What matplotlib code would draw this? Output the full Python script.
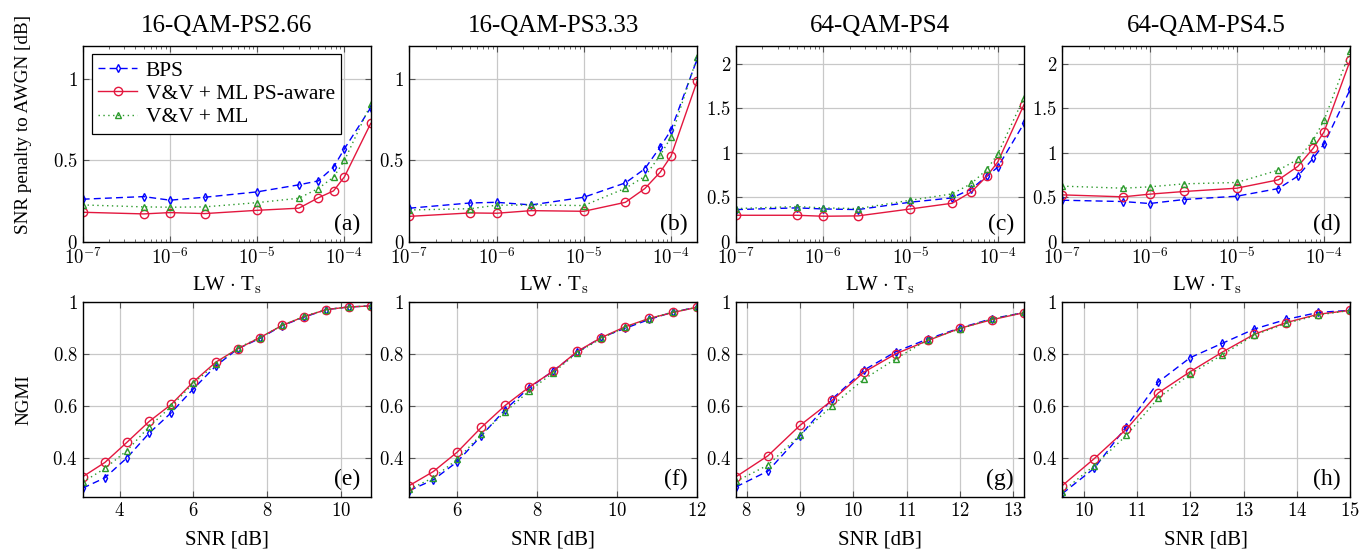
import matplotlib
matplotlib.use("Agg")
import matplotlib.pyplot as plt
import numpy as np
from matplotlib.ticker import FuncFormatter, FixedLocator, LogLocator, NullFormatter

plt.rcParams["font.family"] = ["Liberation Serif", "DejaVu Serif"]
plt.rcParams["mathtext.fontset"] = "cm"

# ---- data ----
titles = ["16-QAM-PS2.66", "16-QAM-PS3.33", "64-QAM-PS4", "64-QAM-PS4.5"]
top_tags = ["(a)", "(b)", "(c)", "(d)"]
bot_tags = ["(e)", "(f)", "(g)", "(h)"]

lw_ts = [1e-7, 5e-7, 1e-6, 2.5e-6, 1e-5, 3e-5, 5e-5, 7.5e-5, 1e-4, 2e-4]

pen_bps = [
    [0.262, 0.278, 0.256, 0.274, 0.307, 0.350, 0.374, 0.458, 0.571, 0.822],
    [0.207, 0.239, 0.243, 0.227, 0.274, 0.362, 0.448, 0.581, 0.685, 1.123],
    [0.364, 0.383, 0.371, 0.364, 0.447, 0.495, 0.597, 0.739, 0.840, 1.332],
    [0.469, 0.454, 0.432, 0.477, 0.514, 0.600, 0.739, 0.938, 1.100, 1.715],
]
pen_psaware = [
    [0.182, 0.172, 0.180, 0.174, 0.194, 0.207, 0.270, 0.313, 0.399, 0.726],
    [0.157, 0.178, 0.176, 0.192, 0.188, 0.243, 0.327, 0.427, 0.526, 0.988],
    [0.300, 0.300, 0.289, 0.293, 0.371, 0.435, 0.563, 0.739, 0.897, 1.542],
    [0.529, 0.507, 0.537, 0.567, 0.604, 0.698, 0.848, 1.051, 1.235, 2.041],
]
pen_ml = [
    [0.227, 0.215, 0.213, 0.215, 0.241, 0.268, 0.327, 0.397, 0.499, 0.843],
    [0.196, 0.204, 0.225, 0.227, 0.223, 0.329, 0.401, 0.530, 0.642, 1.135],
    [0.375, 0.398, 0.383, 0.375, 0.469, 0.540, 0.657, 0.814, 0.987, 1.621],
    [0.627, 0.604, 0.619, 0.653, 0.668, 0.807, 0.927, 1.141, 1.366, 2.146],
]
pen_ymax = [1.2, 1.2, 2.2, 2.2]
pen_yticks = [[0, 0.5, 1], [0, 0.5, 1], [0, 0.5, 1, 1.5, 2], [0, 0.5, 1, 1.5, 2]]

snr = [
    [3.0, 3.6, 4.2, 4.8, 5.4, 6.0, 6.6, 7.2, 7.8, 8.4, 9.0, 9.6, 10.2, 10.8],
    [4.8, 5.4, 6.0, 6.6, 7.2, 7.8, 8.4, 9.0, 9.6, 10.2, 10.8, 11.4, 12.0],
    [7.8, 8.4, 9.0, 9.6, 10.2, 10.8, 11.4, 12.0, 12.6, 13.2],
    [9.6, 10.2, 10.8, 11.4, 12.0, 12.6, 13.2, 13.8, 14.4, 15.0],
]
ngmi_bps = [
    [0.284, 0.324, 0.401, 0.496, 0.575, 0.667, 0.754, 0.821, 0.861, 0.910, 0.943, 0.972, 0.982, 0.986],
    [0.275, 0.316, 0.386, 0.486, 0.587, 0.671, 0.736, 0.808, 0.865, 0.900, 0.934, 0.963, 0.981],
    [0.289, 0.350, 0.486, 0.627, 0.739, 0.810, 0.859, 0.901, 0.937, 0.960],
    [0.263, 0.361, 0.521, 0.693, 0.787, 0.842, 0.897, 0.934, 0.961, 0.969],
]
ngmi_psaware = [
    [0.328, 0.383, 0.461, 0.541, 0.607, 0.694, 0.769, 0.821, 0.864, 0.911, 0.945, 0.972, 0.982, 0.986],
    [0.294, 0.348, 0.423, 0.518, 0.603, 0.674, 0.735, 0.811, 0.864, 0.906, 0.938, 0.961, 0.981],
    [0.328, 0.409, 0.526, 0.622, 0.731, 0.802, 0.853, 0.900, 0.933, 0.960],
    [0.294, 0.398, 0.511, 0.651, 0.733, 0.808, 0.877, 0.922, 0.954, 0.969],
]
ngmi_ml = [
    [0.307, 0.360, 0.429, 0.521, 0.599, 0.689, 0.761, 0.824, 0.864, 0.911, 0.946, 0.972, 0.982, 0.986],
    [0.280, 0.324, 0.395, 0.491, 0.578, 0.659, 0.729, 0.806, 0.861, 0.904, 0.937, 0.963, 0.981],
    [0.310, 0.373, 0.489, 0.601, 0.704, 0.783, 0.856, 0.898, 0.936, 0.961],
    [0.271, 0.371, 0.487, 0.631, 0.724, 0.798, 0.874, 0.919, 0.951, 0.969],
]
snr_xlim = [(3, 10.8), (4.8, 12), (7.8, 13.2), (9.6, 15)]
snr_xticks = [[4, 6, 8, 10], [6, 8, 10, 12], [8, 9, 10, 11, 12, 13], [10, 11, 12, 13, 14, 15]]
ngmi_yticks = [0.4, 0.6, 0.8, 1]

# ---- styles ----
BLUE, RED, GREEN = "#0000ff", "#e3173e", "#2b9a2b"
styles = [
    dict(color=BLUE, ls=(0, (5, 3)), marker="d", ms=4.2, label="BPS"),
    dict(color=RED, ls="-", marker="o", ms=6, label="V&V + ML PS-aware"),
    dict(color=GREEN, ls=(0, (1, 2.5)), marker="^", ms=4.6, label="V&V + ML"),
]
TICK_FS = 13.5
LAB_FS = 15

math_fmt = FuncFormatter(lambda v, p: f"${v:g}$")
log_fmt = FuncFormatter(lambda v, p: f"$10^{{{int(round(np.log10(v)))}}}$")


def draw(ax, x, series):
    for y, st in zip(series, styles):
        ax.plot(x, y, color=st["color"], ls=st["ls"], lw=1.0,
                marker=st["marker"], ms=st["ms"],
                mfc="none", mec=st["color"], mew=1.0, label=st["label"])


def style_axes(ax):
    ax.tick_params(which="both", direction="in", top=True, right=True,
                   labelsize=TICK_FS, color="#555555")
    ax.tick_params(which="major", length=4)
    ax.tick_params(which="minor", length=2.5)
    ax.grid(True, which="major", color="#c8c8c8", lw=0.9)
    ax.set_axisbelow(True)
    for s in ax.spines.values():
        s.set_linewidth(1.0)


fig = plt.figure(figsize=(13.71, 5.52), dpi=100)
W, H = 1371, 552
lefts = [82.7, 409.3, 736.0, 1062.3]
aw = 288

for i in range(4):
    # top row: penalty vs LW*Ts
    ax = fig.add_axes([lefts[i] / W, 1 - 242 / H, aw / W, 196 / H])
    draw(ax, lw_ts, [pen_bps[i], pen_psaware[i], pen_ml[i]])
    ax.set_xscale("log")
    ax.set_xlim(1e-7, 2e-4)
    ax.set_ylim(0, pen_ymax[i])
    ax.xaxis.set_major_locator(FixedLocator([1e-7, 1e-6, 1e-5, 1e-4]))
    ax.xaxis.set_minor_locator(LogLocator(base=10, subs=np.arange(2, 10)))
    ax.xaxis.set_major_formatter(log_fmt)
    ax.xaxis.set_minor_formatter(NullFormatter())
    ax.yaxis.set_major_locator(FixedLocator(pen_yticks[i]))
    ax.yaxis.set_major_formatter(math_fmt)
    style_axes(ax)
    ax.set_title(titles[i], fontsize=18, pad=10)
    ax.set_xlabel(r"LW $\cdot$ T$_\mathrm{s}$", fontsize=LAB_FS, labelpad=5)
    ax.text(0.965, 0.035, top_tags[i], transform=ax.transAxes,
            ha="right", va="bottom", fontsize=17)
    if i == 0:
        ax.set_ylabel("SNR penalty to AWGN [dB]", fontsize=13.8)
        ax.yaxis.set_label_coords(-0.175, 0.6)
        leg = ax.legend(loc="upper left", bbox_to_anchor=(0.032, 0.959),
                        borderaxespad=0, fontsize=15.5, fancybox=False,
                        framealpha=1, edgecolor="black", handlelength=1.8,
                        handletextpad=0.4, labelspacing=0.15, borderpad=0.3,
                        numpoints=1)
        leg.get_frame().set_linewidth(0.9)

    # bottom row: NGMI vs SNR
    bx = fig.add_axes([lefts[i] / W, 1 - 497 / H, aw / W, 194.7 / H])
    draw(bx, snr[i], [ngmi_bps[i], ngmi_psaware[i], ngmi_ml[i]])
    bx.set_xlim(*snr_xlim[i])
    bx.set_ylim(0.25, 1.0)
    bx.xaxis.set_major_locator(FixedLocator(snr_xticks[i]))
    bx.yaxis.set_major_locator(FixedLocator(ngmi_yticks))
    bx.xaxis.set_major_formatter(math_fmt)
    bx.yaxis.set_major_formatter(math_fmt)
    style_axes(bx)
    bx.set_xlabel("SNR [dB]", fontsize=LAB_FS, labelpad=8)
    bx.text(0.965, 0.035, bot_tags[i], transform=bx.transAxes,
            ha="right", va="bottom", fontsize=17)
    if i == 0:
        bx.set_ylabel("NGMI", fontsize=13.8)
        bx.yaxis.set_label_coords(-0.175, 0.5)

fig.savefig("out.png", dpi=100)
